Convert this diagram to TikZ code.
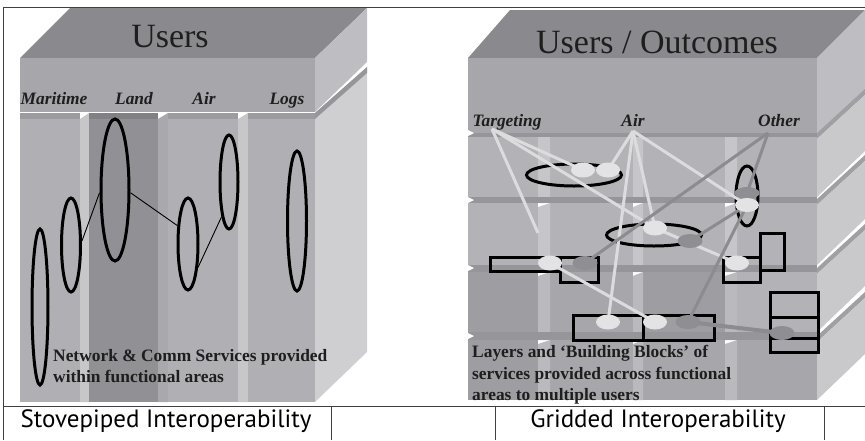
\documentclass[tikz,border=0pt]{standalone}
\usepackage{fontspec}
\setmainfont{Liberation Serif}
\newfontfamily\capfont{PT Sans}
\usetikzlibrary{shapes.geometric}
\pgfdeclarelayer{backl}
\pgfdeclarelayer{linel}
\pgfsetlayers{backl,linel,main}

% block shades
\definecolor{slabtop}{HTML}{8A8A8E}
\definecolor{slabfront}{HTML}{A7A7AB}
\definecolor{slabside}{HTML}{BEBEC2}
\definecolor{pillarside}{HTML}{CFCFD2}
\definecolor{bandgray}{HTML}{96969A}
\definecolor{colA}{HTML}{B0B0B4}
\definecolor{colB}{HTML}{909095}
\definecolor{stripA}{HTML}{C7C7CA}
\definecolor{stripB}{HTML}{A9A9AD}
\definecolor{capA}{HTML}{9C9CA0}
\definecolor{capB}{HTML}{808085}
\definecolor{gA}{HTML}{B3B3B7}
\definecolor{gB}{HTML}{9E9EA2}
\definecolor{gC}{HTML}{A7A7AB}
\definecolor{stripL}{HTML}{C6C6CA}
\definecolor{stripD}{HTML}{BABABE}
\definecolor{sideface}{HTML}{C9C9CC}
\definecolor{sideband}{HTML}{A0A0A4}
% overlay shades
\definecolor{dotlight}{HTML}{E3E3E5}
\definecolor{dotgray}{HTML}{8F8F93}
\definecolor{wirelight}{HTML}{DCDCDE}
\definecolor{wiregray}{HTML}{8C8C90}
\definecolor{inkdark}{HTML}{1E1E1E}
\definecolor{framegray}{HTML}{404040}

\begin{document}
\begin{tikzpicture}[x=1pt,y=-1pt,
  ring/.style={ellipse, draw=black, line width=3pt, inner sep=0pt},
  ldot/.style={ellipse, fill=dotlight, inner sep=0pt, minimum width=24pt, minimum height=15pt},
  gdot/.style={ellipse, fill=dotgray, inner sep=0pt, minimum width=25pt, minimum height=14pt},
  lwire/.style={draw=wirelight, line width=3pt},
  gwire/.style={draw=wiregray, line width=3pt},
  thinwire/.style={draw=black, line width=0.9pt},
  blk/.style={draw=black, line width=3pt},
  areaname/.style={font=\fontsize{17.4}{20}\selectfont\bfseries\itshape, text=inkdark, inner sep=0pt, anchor=base},
  note/.style={font=\fontsize{17.4}{21.3}\selectfont\bfseries, text=inkdark, align=left, inner sep=0pt, anchor=north west},
  heading/.style={font=\fontsize{34}{40}\selectfont, text=inkdark, inner sep=0pt, anchor=base},
  caption/.style={font=\capfont\fontsize{25}{30}\selectfont, text=black, inner sep=0pt, anchor=base},
  frameline/.style={draw=framegray, line width=1pt}]
\useasboundingbox (0,0) rectangle (865,440);

\begin{pgfonlayer}{backl}
  % ---------- stovepiped block ----------
  \fill[slabtop] (20,58) -- (70,8) -- (367,8) -- (315,58) -- cycle;
  \fill[slabfront] (20,58) rectangle (315,112);
  \fill[slabside] (315,58) -- (367,8) -- (367,62) -- (315,112) -- cycle;
  \fill[pillarside] (315,113) -- (367,67) -- (367,352) -- (315,402) -- cycle;
  \fill[bandgray] (315,113) -- (367,67) -- (367,73) -- (315,119) -- cycle;
  % pillars
  \fill[colA] (20,113) rectangle (80,402);
  \fill[stripA] (80,119) -- (89,113) -- (89,402) -- (80,402) -- cycle;
  \fill[colB] (89,113) rectangle (158,402);
  \fill[stripB] (158,119) -- (168,113) -- (168,402) -- (158,402) -- cycle;
  \fill[colA] (168,113) rectangle (238,402);
  \fill[stripA] (238,119) -- (248,113) -- (248,402) -- (238,402) -- cycle;
  \fill[colA] (248,113) rectangle (315,402);
  \fill[capA] (20,113) rectangle (80,119);
  \fill[capB] (89,113) rectangle (158,119);
  \fill[capA] (168,113) rectangle (238,119);
  \fill[capA] (248,113) rectangle (315,119);

  % ---------- gridded block ----------
  \fill[slabtop] (468,58) -- (510,10) -- (865,10) -- (817,58) -- cycle;
  \fill[slabfront] (468,58) rectangle (817,133);
  \fill[slabside] (817,58) -- (865,10) -- (865,90) -- (817,133) -- cycle;
  % block fronts, row by row
  \foreach \xa/\xb/\ya/\yb/\cc in {
      468/538/137/197/gA, 550/633/137/197/gA, 643/725/137/197/gA, 737/817/137/197/gA,
      468/538/203/265/gA, 550/633/203/265/gA, 643/725/203/265/gA, 737/817/203/265/gA,
      468/538/272/332/gB, 550/633/272/332/gC, 643/725/272/332/gB, 737/817/272/332/gA,
      468/538/340/400/gB, 550/633/340/400/gC, 643/725/340/400/gC, 737/817/340/400/gC}
    \fill[\cc] (\xa,\ya) rectangle (\xb,\yb);
  % gaps between columns show the side faces
  \foreach \xa/\xb/\ya/\yb/\cc in {
      538/550/133/203/stripL, 633/643/133/203/stripL, 725/737/133/203/stripL,
      538/550/203/272/stripL, 633/643/203/272/stripL, 725/737/203/272/stripL,
      538/550/272/340/stripD, 633/643/272/340/stripD, 725/737/272/340/stripD,
      538/550/340/400/stripD, 633/643/340/400/stripD, 725/737/340/400/stripD}
    \fill[\cc] (\xa,\ya+4) -- (\xb,\ya) -- (\xb,\yb) -- (\xa,\yb) -- cycle;
  % top faces between rows
  \foreach \ya/\yb in {133/137, 197/203, 265/272, 332/340}
    \fill[bandgray] (468,\ya) rectangle (817,\yb);
  % right side faces of the rows
  \foreach \ya/\yb in {137/197, 203/265, 272/332, 340/400} {
    \fill[sideband] (817,\ya-4) -- (865,\ya-48) -- (865,\ya-42) -- (817,\ya+2) -- cycle;
    \fill[sideface] (817,\ya+2) -- (865,\ya-42) -- (865,\yb-46) -- (817,\yb) -- cycle;
  }
  % notches on the left edge
  \foreach \yy in {133, 200, 268, 336}
    \fill[white] (466,\yy-4) -- (474,\yy) -- (466,\yy+4) -- cycle;

  % rings and building blocks
  \node[ring, minimum width=95pt, minimum height=22pt] (ringtop) at (574,175) {};
  \node[ring, minimum width=95pt, minimum height=22pt] (ringlow) at (654,235) {};
  \node[ring, minimum width=22pt, minimum height=60pt] (ringoth) at (747,196) {};
  \draw[blk] (490,257) rectangle (560,271);
  \draw[blk] (560,257) rectangle (598,282);
  \draw[blk] (573,315) rectangle (643,340);
  \draw[blk] (643,315) rectangle (714,340);
  \draw[blk] (760,233) rectangle (784,270);
  \draw[blk] (723,257) rectangle (760,282);
  \draw[blk] (770,292) rectangle (818,317);
  \draw[blk] (770,317) rectangle (818,338);
  \draw[blk] (770,338) rectangle (818,352);
\end{pgfonlayer}

% ---------- frame ----------
\draw[frameline] (3,440) -- (3,7) -- (865,7);
\draw[frameline] (3,406) -- (865,406);
\foreach \xx in {331,495,824}
  \draw[frameline] (\xx,406) -- (\xx,440);

% ---------- stovepiped labels and rings ----------
\node[heading] (usersL) at (170,47) {Users};
\node[areaname] (mar) at (54,104) {Maritime};
\node[areaname] (land) at (134,104) {Land};
\node[areaname] (airL) at (204,104) {Air};
\node[areaname] (logs) at (287,104) {Logs};

\node[ring, minimum width=16pt, minimum height=156pt] (rmarbig) at (40,307) {};
\node[ring, minimum width=19pt, minimum height=94pt] (rmar) at (71,245) {};
\node[ring, minimum width=28pt, minimum height=142pt] (rland) at (115,190) {};
\node[ring, minimum width=20pt, minimum height=92pt] (rairlo) at (188,244) {};
\node[ring, minimum width=18pt, minimum height=94pt] (rairup) at (229,182) {};
\node[ring, minimum width=19pt, minimum height=140pt] (rlogs) at (297,221) {};
\draw[thinwire] (rmar.20) -- (rland.190);
\draw[thinwire] (rland.-10) -- (rairlo.120);
\draw[thinwire] (rairlo.-67) -- (rairup.-102);

\node[note] (noteL) at (53,349) {Network \& Comm Services provided\\within functional areas};

% ---------- gridded labels, dots and wires ----------
\node[heading] (usersR) at (657,53) {Users / Outcomes};
\node[areaname] (targ) at (507,126) {Targeting};
\node[areaname] (airR) at (633,126) {Air};
\node[areaname] (other) at (779,126) {Other};
\coordinate (tgpt) at (492,129);
\coordinate (airpt) at (633,131);
\coordinate (othpt) at (768,133);
\coordinate (tgend) at (538,233);

\node[ldot] (d1) at (583,170) {};
\node[ldot] (d2) at (608,170) {};
\node[ldot] (d3) at (655,228) {};
\node[gdot] (d4) at (690,241) {};
\node[ldot] (d5) at (550,263) {};
\node[gdot] (d6) at (585,263) {};
\node[ldot] (d7) at (608,322) {};
\node[ldot] (d8) at (655,322) {};
\node[gdot] (d9) at (688,322) {};
\node[gdot, minimum height=12pt] (d10) at (747,193) {};
\node[ldot, minimum height=14pt] (d11) at (747,205) {};
\node[ldot] (d12) at (737,263) {};
\node[gdot] (d13) at (782,333) {};

\begin{pgfonlayer}{linel}
  \draw[lwire] (tgpt) -- (tgend);
  \draw[lwire] (tgpt) -- (d1.center);
  \draw[lwire] (tgpt) -- (d3.center);
  \draw[lwire] (airpt) -- (d2.center);
  \draw[lwire] (airpt) -- (d7.center);
  \draw[lwire] (airpt) -- (d3.center);
  \draw[lwire] (airpt) -- (d11.center);
  \draw[lwire] (d3.center) -- (d12.center);
  \draw[lwire] (d5.center) -- (d8.center);
  \draw[gwire] (othpt) -- (d6.center);
  \draw[gwire] (othpt) -- (d10.center);
  \draw[gwire] (d11.center) -- (d4.center);
  \draw[gwire] (d11.center) -- (d9.center);
  \draw[gwire, line width=4pt] (d9.center) -- (d13.center);
\end{pgfonlayer}

\node[note] (noteR) at (472,345.5) {Layers and ‘Building Blocks’ of\\services provided across functional\\areas to multiple users};

% ---------- captions ----------
\node[caption] (capL) at (166,427) {Stovepiped Interoperability};
\node[caption] (capR) at (658,427) {Gridded Interoperability};
\end{tikzpicture}
\end{document}
